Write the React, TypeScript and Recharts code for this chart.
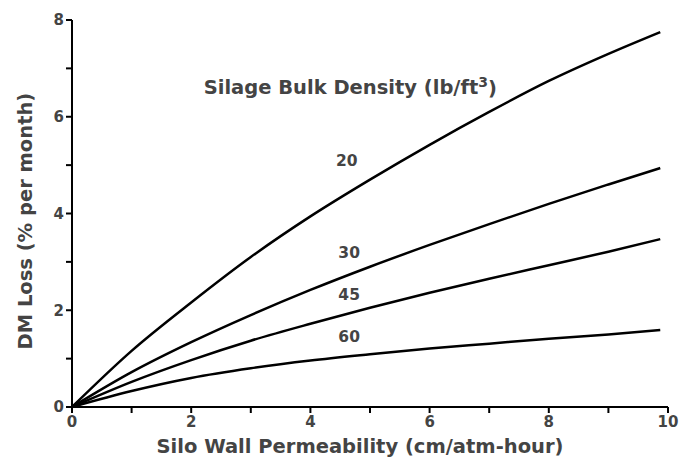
import { LineChart, Line, XAxis, YAxis, ReferenceDot } from "recharts";

// silo wall permeability (cm/atm-hour); curves stop just short of 10
const permeability = [0, 1, 2, 3, 4, 5, 6, 7, 8, 9, 9.87];

// DM loss (% per month) for each silage bulk density (lb/ft3)
const loss20 = [0, 1.16, 2.16, 3.1, 3.94, 4.7, 5.42, 6.1, 6.74, 7.3, 7.75];
const loss30 = [0, 0.72, 1.34, 1.9, 2.42, 2.9, 3.35, 3.78, 4.2, 4.6, 4.94];
const loss45 = [0, 0.52, 0.97, 1.37, 1.72, 2.05, 2.36, 2.65, 2.93, 3.21, 3.47];
const loss60 = [0, 0.33, 0.6, 0.8, 0.96, 1.09, 1.21, 1.31, 1.41, 1.5, 1.59];

const xTicks = [0, 1, 2, 3, 4, 5, 6, 7, 8, 9, 10];
const yTicks = [0, 1, 2, 3, 4, 5, 6, 7, 8];

const curveLabels = [
  { text: "20", x: 4.61, y: 5.1 },
  { text: "30", x: 4.65, y: 3.2 },
  { text: "45", x: 4.65, y: 2.33 },
  { text: "60", x: 4.65, y: 1.45 },
];

const titleAt = { x: 4.67, y: 6.6 };

const data = permeability.map((p, i) => ({
  p,
  d20: loss20[i],
  d30: loss30[i],
  d45: loss45[i],
  d60: loss60[i],
}));

const FONT = "'DejaVu Sans', Verdana, sans-serif";
const TEXT = "#444";

const evenOnly = (v: number) => (v % 2 === 0 ? String(v) : "");

const tickStyle = { fontSize: 15, fontWeight: 700, fill: TEXT, fontFamily: FONT };
const axisTitle = { fontSize: 19.5, fontWeight: 700, fill: TEXT, fontFamily: FONT };

function Title(props: any) {
  const { viewBox } = props;
  const cx = viewBox.x + viewBox.width / 2;
  const cy = viewBox.y + viewBox.height / 2;
  return (
    <text
      x={cx}
      y={cy}
      textAnchor="middle"
      dominantBaseline="central"
      fontFamily={FONT}
      fontSize={19.5}
      fontWeight={700}
      fill={TEXT}
    >
      Silage Bulk Density (lb/ft
      <tspan dy={-6} fontSize={14}>3</tspan>
      <tspan dy={6}>)</tspan>
    </text>
  );
}

export default function App() {
  const lines = ["d20", "d30", "d45", "d60"];
  return (
    <div style={{ position: "absolute", left: 0, top: 0, background: "#fff" }}>
      <LineChart
        width={682}
        height={464}
        data={data}
        margin={{ top: 20, right: 14, left: 0, bottom: 0 }}
      >
        <XAxis
          dataKey="p"
          type="number"
          domain={[0, 10]}
          ticks={xTicks}
          tickFormatter={evenOnly}
          interval={0}
          tickSize={6}
          tickMargin={3}
          height={57}
          axisLine={{ stroke: "#000", strokeWidth: 2 }}
          tickLine={{ stroke: "#000", strokeWidth: 2 }}
          tick={tickStyle}
          label={{
            value: "Silo Wall Permeability (cm/atm-hour)",
            position: "insideBottom",
            offset: 11,
            dx: -10,
            style: axisTitle,
          }}
        />
        <YAxis
          type="number"
          domain={[0, 8]}
          ticks={yTicks}
          tickFormatter={evenOnly}
          interval={0}
          width={72}
          tickSize={6}
          tickMargin={2}
          axisLine={{ stroke: "#000", strokeWidth: 2 }}
          tickLine={{ stroke: "#000", strokeWidth: 2 }}
          tick={tickStyle}
          label={{
            value: "DM Loss (% per month)",
            angle: -90,
            position: "insideLeft",
            offset: 25,
            dy: 136,
            style: axisTitle,
          }}
        />
        {lines.map((k) => (
          <Line
            key={k}
            type="monotone"
            dataKey={k}
            stroke="#000"
            strokeWidth={2.5}
            dot={false}
            isAnimationActive={false}
          />
        ))}
        {curveLabels.map((c) => (
          <ReferenceDot
            key={c.text}
            x={c.x}
            y={c.y}
            r={0}
            fill="none"
            stroke="none"
            label={{
              value: c.text,
              position: "center",
              style: { fontSize: 15.5, fontWeight: 700, fill: TEXT, fontFamily: FONT },
            }}
          />
        ))}
        <ReferenceDot
          x={titleAt.x}
          y={titleAt.y}
          r={0}
          fill="none"
          stroke="none"
          label={{ content: Title }}
        />
      </LineChart>
    </div>
  );
}
